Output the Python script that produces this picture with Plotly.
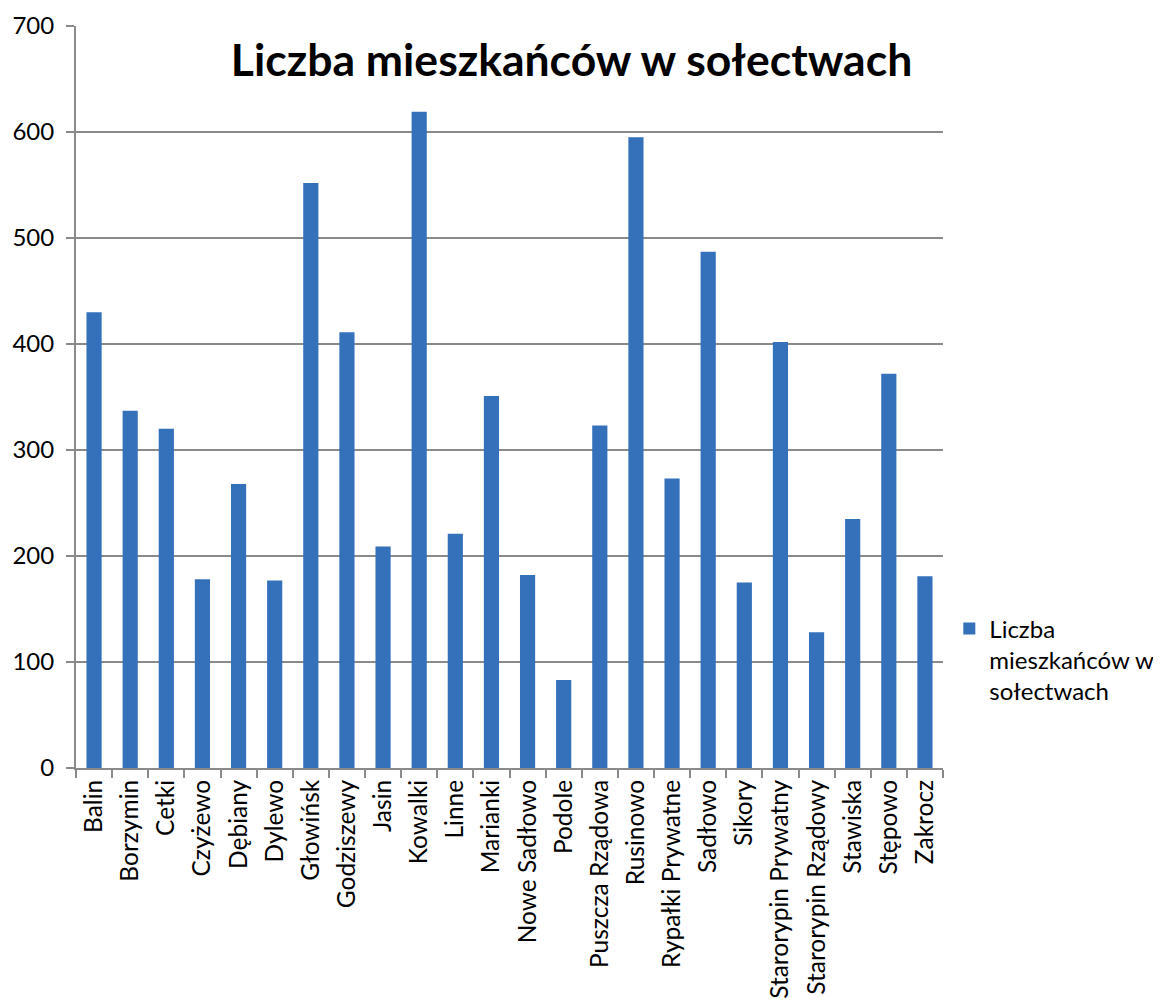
import plotly.graph_objects as go

categories = ["Balin", "Borzymin", "Cetki", "Czyżewo", "Dębiany", "Dylewo", "Głowińsk",
              "Godziszewy", "Jasin", "Kowalki", "Linne", "Marianki", "Nowe Sadłowo", "Podole",
              "Puszcza Rządowa", "Rusinowo", "Rypałki Prywatne", "Sadłowo", "Sikory",
              "Starorypin Prywatny", "Starorypin Rządowy", "Stawiska", "Stępowo", "Zakrocz"]
values = [430, 337, 320, 178, 268, 177, 552, 411, 209, 619, 221, 351, 182, 83,
          323, 595, 273, 487, 175, 402, 128, 235, 372, 181]
series_name = "Liczba<br>mieszkańców w<br>sołectwach"
title_text = "Liczba mieszkańców w sołectwach"
y_ticks = [0, 100, 200, 300, 400, 500, 600, 700]

FONT = "Lato"
GRID = "#8a8a8a"

fig = go.Figure()
fig.add_trace(go.Bar(
    x=categories, y=values, name=series_name,
    marker=dict(color="#3571bb", line=dict(width=0)),
    showlegend=True,
))

fig.update_layout(
    width=1161, height=1003,
    margin=dict(l=68, r=226, t=18, b=243, autoexpand=False),
    paper_bgcolor="white", plot_bgcolor="white",
    font=dict(family=FONT, size=24, color="black"),
    bargap=0.58,
    title=dict(text=f"<b>{title_text}</b>", x=0.4854, xref="container", xanchor="center",
               y=0.948, yref="container", yanchor="middle",
               font=dict(family=FONT, size=44.5, color="black")),
    showlegend=True,
    legend=dict(x=1.0073, xanchor="left", y=0.1456, yanchor="middle",
                font=dict(family=FONT, size=24, color="black"),
                valign="top", itemwidth=30, bgcolor="rgba(0,0,0,0)"),
    xaxis=dict(tickangle=-90, showline=True, linecolor=GRID, linewidth=2, automargin=False,
               ticks="outside", tickson="boundaries", ticklen=8, tickcolor=GRID, tickwidth=2,
               showgrid=False, tickfont=dict(family=FONT, size=24.5)),
    yaxis=dict(range=[0, 700], tickvals=y_ticks, showline=True, linecolor=GRID, linewidth=2,
               automargin=False, ticklabelstandoff=7,
               ticks="outside", ticklen=8, tickcolor=GRID, tickwidth=2,
               showgrid=True, gridcolor=GRID, gridwidth=2, zeroline=False,
               tickfont=dict(family=FONT, size=24)),
)

fig.write_html("out.html")
